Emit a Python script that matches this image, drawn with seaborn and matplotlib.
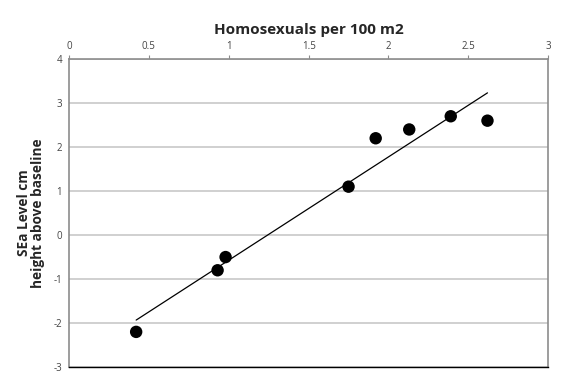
import matplotlib
matplotlib.use("Agg")
import matplotlib.pyplot as plt
import seaborn as sns
import pandas as pd

# values
density = [0.42, 0.93, 0.98, 1.75, 1.92, 2.13, 2.39, 2.62]
sea_level = [-2.2, -0.8, -0.5, 1.1, 2.2, 2.4, 2.7, 2.6]
x_ticks = [0, 0.5, 1, 1.5, 2, 2.5, 3]
x_tick_labels = ["0", "0.5", "1", "1.5", "2", "2.5", "3"]
y_ticks = [-3, -2, -1, 0, 1, 2, 3, 4]

df = pd.DataFrame({"density": density, "sea_level": sea_level})

sns.set_style("white")
plt.rcParams["font.family"] = ["Open Sans", "DejaVu Sans"]
plt.rcParams["axes.unicode_minus"] = False  # excel style hyphen minus

fig = plt.figure(figsize=(5.71, 3.86), dpi=100)
ax = fig.add_axes([0.121, 0.049, 0.839, 0.798])

sns.regplot(
    data=df, x="density", y="sea_level", ax=ax, ci=None, truncate=True,
    scatter_kws={"s": 80, "color": "black", "alpha": 1, "edgecolor": "none", "zorder": 3},
    line_kws={"color": "black", "linewidth": 0.9},
)

ax.set_xlim(0, 3)
ax.set_ylim(-3, 4)
ax.set_xticks(x_ticks)
ax.set_xticklabels(x_tick_labels)
ax.set_yticks(y_ticks)
ax.xaxis.tick_top()
ax.xaxis.set_label_position("top")
ax.tick_params(axis="both", labelsize=7, labelcolor="#444444", length=3, width=0.8,
               direction="out", pad=2, color="#8c8c8c")

ax.grid(axis="y", color="#c8c8c8", linewidth=1.2)
ax.set_axisbelow(True)
for side in ["left", "right", "top"]:
    ax.spines[side].set_color("#8c8c8c")
    ax.spines[side].set_linewidth(1.2)
ax.spines["bottom"].set_color("black")
ax.spines["bottom"].set_linewidth(1.0)

ax.set_xlabel("Homosexuals per 100 m2", fontsize=11, fontweight="bold", labelpad=5)
ax.set_ylabel("SEa Level cm\nheight above baseline", fontsize=9.8,
              fontweight="bold", labelpad=6, linespacing=1.05)

fig.savefig("out.png", dpi=100)
